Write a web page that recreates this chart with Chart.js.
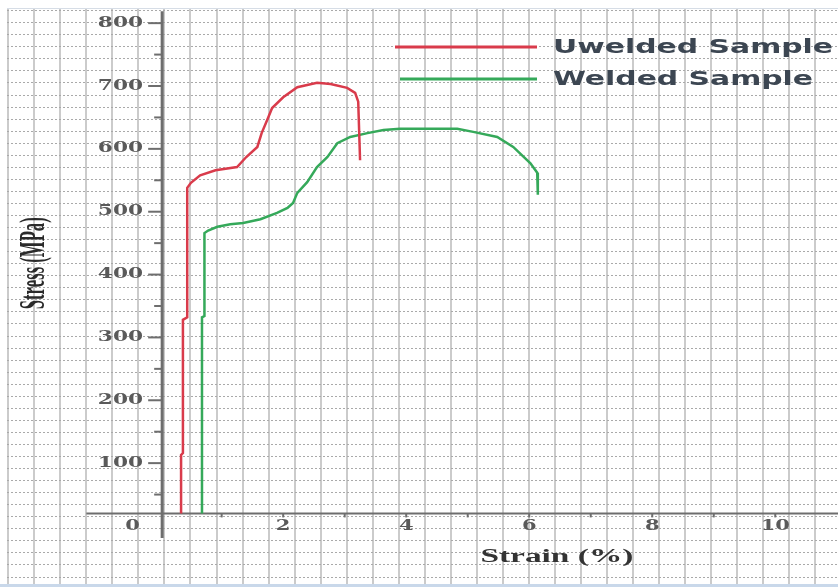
<!DOCTYPE html>
<html>
    <head>
        <title>Stress - Strain</title>
        <script src="https://cdn.jsdelivr.net/npm/chart.js@4.4.0/dist/chart.umd.min.js"></script>
        <style>
            body { margin: 0; background: #ffffff; }
        </style>
        <script>
            // series
            const unweldedLabel = "Uwelded Sample";
            const unweldedStrain = [0.34, 0.34, 0.37, 0.37, 0.44, 0.44, 0.50, 0.65, 0.90, 1.25, 1.40, 1.58, 1.65, 1.74, 1.82, 2.00, 2.23, 2.55, 2.77, 3.04, 3.17, 3.22, 3.25];
            const unweldedStress = [20, 113, 116, 328, 332, 538, 546, 558, 566, 571, 587, 603, 625, 646, 665, 682, 698, 705, 703, 697, 689, 675, 582];

            const weldedLabel = "Welded Sample";
            const weldedStrain = [0.68, 0.68, 0.72, 0.72, 0.78, 0.93, 1.14, 1.35, 1.63, 1.90, 2.07, 2.16, 2.23, 2.39, 2.55, 2.72, 2.88, 3.09, 3.37, 3.63, 3.90, 4.83, 5.09, 5.48, 5.74, 6.02, 6.13, 6.14];
            const weldedStress = [20, 332, 334, 466, 470, 476, 480, 482, 488, 498, 506, 514, 530, 547, 571, 587, 609, 619, 625, 630, 632, 632, 627, 619, 603, 577, 562, 527];

            const stressTicks = [100, 200, 300, 400, 500, 600, 700, 800];
            const stressMinorTicks = [50, 150, 250, 350, 450, 550, 650, 750];
            const strainTicks = [2, 4, 6, 8, 10];
            const strainMinorTicks = [1, 3, 5, 7, 9];
            const xTitle = "Strain (%)";
            const yTitle = "Stress (MPa)";
        </script>
        <script>
            function toPoints(xs, ys)
            {
                return xs.map((v, i) => ({ x: v, y: ys[i] }));
            }

            // draw text squeezed/stretched along its baseline
            function drawText(ctx, text, x, y, font, sx, align, color, angle)
            {
                ctx.save();
                ctx.font = font;
                ctx.fillStyle = color;
                ctx.textBaseline = 'middle';
                ctx.textAlign = align;
                ctx.translate(x, y);
                if (angle) ctx.rotate(angle);
                ctx.scale(sx, 1);
                ctx.fillText(text, 0, 0);
                ctx.restore();
            }
            function fitScale(ctx, text, font, width)
            {
                ctx.save();
                ctx.font = font;
                const w = ctx.measureText(text).width;
                ctx.restore();
                return width / w;
            }
            function seg(ctx, x1, y1, x2, y2)
            {
                ctx.beginPath();
                ctx.moveTo(x1, y1);
                ctx.lineTo(x2, y2);
                ctx.stroke();
            }

            const axisCross = 20;     // stress where the strain axis sits
            const tickFont = "bold 14px 'DejaVu Serif'";
            const tickColor = '#5a5a5a';

            const axesPlugin = {
                id: 'paperAxes',
                beforeDatasetsDraw(chart)
                {
                    const ctx = chart.ctx;
                    const x = chart.scales.x;
                    const y = chart.scales.y;
                    const x0 = x.getPixelForValue(0) + 2;
                    const yb = y.getPixelForValue(axisCross);

                    ctx.save();
                    ctx.strokeStyle = '#6e6e6e';
                    ctx.lineWidth = 2;
                    seg(ctx, x.getPixelForValue(-1.2), yb, chart.chartArea.right, yb);
                    ctx.lineWidth = 3;
                    seg(ctx, x0, y.getPixelForValue(819), x0, y.getPixelForValue(-19));

                    ctx.lineWidth = 2;
                    for (const v of stressTicks)
                    {
                        const py = y.getPixelForValue(v);
                        seg(ctx, x0 - 14, py, x0, py);
                        drawText(ctx, String(v), x0 - 19, py, tickFont, 1.55, 'right', tickColor);
                    }
                    for (const v of stressMinorTicks)
                    {
                        const py = y.getPixelForValue(v);
                        seg(ctx, x0 - 8, py, x0, py);
                    }
                    for (const v of strainTicks.concat(strainMinorTicks))
                    {
                        const px = x.getPixelForValue(v);
                        seg(ctx, px, yb, px, yb + 4);
                    }
                    for (const v of strainTicks)
                    {
                        drawText(ctx, String(v), x.getPixelForValue(v), yb + 13, tickFont, 1.5, 'center', tickColor);
                    }
                    drawText(ctx, "0", x.getPixelForValue(-0.45), yb + 13, tickFont, 1.5, 'center', tickColor);

                    const tf = "bold 18px 'Liberation Serif'";
                    drawText(ctx, xTitle, x.getPixelForValue(6.45), yb + 44, tf, fitScale(ctx, xTitle, tf, 153), 'center', '#333333');
                    const yf = "bold 36px 'Liberation Serif'";
                    drawText(ctx, yTitle, 35, y.getPixelForValue(418), yf, fitScale(ctx, yTitle, yf, 92), 'center', '#2a2a2a', -Math.PI / 2);
                    ctx.restore();
                }
            };

            const legendPlugin = {
                id: 'paperLegend',
                afterDraw(chart)
                {
                    const ctx = chart.ctx;
                    const lf = "bold 20px 'DejaVu Sans'";
                    const sx = fitScale(ctx, unweldedLabel, lf, 280);
                    const rows = [{ x1: 395, y: 47 }, { x1: 400, y: 79 }];
                    chart.data.datasets.forEach((ds, i) => {
                        const r = rows[i];
                        ctx.save();
                        ctx.strokeStyle = ds.borderColor;
                        ctx.lineWidth = 3;
                        seg(ctx, r.x1, r.y, 537, r.y);
                        ctx.restore();
                        drawText(ctx, ds.label, 553, r.y + 1, lf, sx, 'left', '#3c4652');
                    });
                }
            };

            const paperPlugin = {
                id: 'paperEdge',
                afterDraw(chart)
                {
                    const ctx = chart.ctx;
                    ctx.save();
                    ctx.fillStyle = '#c9d8ea';
                    ctx.fillRect(0, 584, chart.width, 3);
                    ctx.fillStyle = '#d6dde6';
                    ctx.fillRect(7, 8, chart.width - 7, 1);
                    ctx.restore();
                }
            };

            function loaded()
            {
                const ctx = document.getElementById('chart');
                new Chart(ctx, {
                    type: 'line',
                    data: {
                        datasets: [{
                            label: unweldedLabel,
                            data: toPoints(unweldedStrain, unweldedStress),
                            borderColor: '#d93b4b',
                            borderWidth: 2.5,
                            pointRadius: 0,
                            tension: 0
                        }, {
                            label: weldedLabel,
                            data: toPoints(weldedStrain, weldedStress),
                            borderColor: '#35a95a',
                            borderWidth: 2.5,
                            pointRadius: 0,
                            tension: 0
                        }]
                    },
                    options: {
                        responsive: false,
                        animation: false,
                        layout: { padding: { left: 7, top: 9, right: 0, bottom: 3 } },
                        plugins: {
                            legend: { display: false },
                            tooltip: { enabled: false }
                        },
                        scales: {
                            x: { type: 'linear', display: false, min: -2.49, max: 11.02 },
                            y: { type: 'linear', display: false, min: -92.3, max: 822.5 },
                            // graph paper behind the plot
                            gx: {
                                type: 'linear', axis: 'x', position: 'bottom',
                                min: -0.05, max: 31.88,
                                ticks: { display: false, stepSize: 1, includeBounds: false },
                                border: { display: false },
                                grid: {
                                    drawTicks: false, lineWidth: 2,
                                    color: c => Number.isInteger(c.tick.value) ? '#cbcbcb' : 'rgba(0,0,0,0)'
                                }
                            },
                            gy: {
                                type: 'linear', axis: 'y', position: 'left', reverse: true,
                                min: -0.14, max: 47.58,
                                ticks: { display: false, stepSize: 1, includeBounds: false },
                                border: { display: false, dash: [2, 2] },
                                grid: {
                                    drawTicks: false, lineWidth: 1,
                                    color: c => Number.isInteger(c.tick.value) ? '#a9a9a9' : 'rgba(0,0,0,0)'
                                }
                            }
                        }
                    },
                    plugins: [axesPlugin, legendPlugin, paperPlugin]
                });
            }

            window.addEventListener('load', loaded, true);
        </script>
    </head>
    <body>
        <canvas id="chart" width="838" height="587"></canvas>
    </body>
</html>
